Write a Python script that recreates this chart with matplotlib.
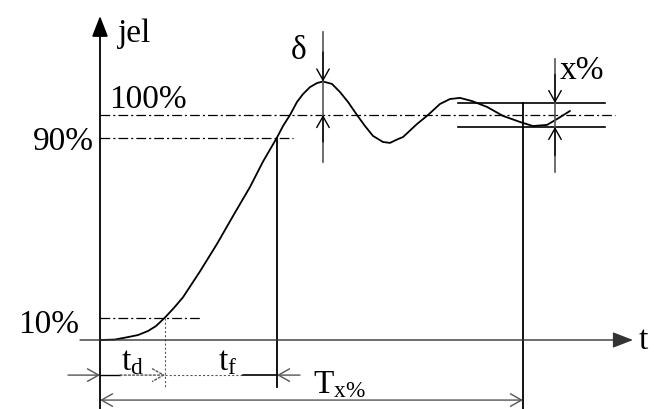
import matplotlib
matplotlib.use("Agg")
import matplotlib.pyplot as plt

plt.rcParams['font.family'] = ['Liberation Serif', 'DejaVu Serif']
plt.rcParams['mathtext.fontset'] = 'custom'
plt.rcParams['mathtext.rm'] = 'Liberation Serif'
plt.rcParams['mathtext.it'] = 'Liberation Serif:italic'
plt.rcParams['lines.scale_dashes'] = False

# step response curve (time units, signal in %)
t_curve = [0, 15, 28, 38, 48, 56, 65, 74, 83, 100, 117, 133, 150, 163, 177, 183, 190,
           197, 203, 210, 217, 223, 232, 240, 248, 257, 265, 273, 283, 290, 298,
           303, 317, 328, 340, 350, 360, 372, 387, 403, 420, 433, 447, 457, 470]
v_curve = [0, 0.2, 1.3, 2.2, 4.0, 6.2, 10, 14.3, 19.0, 30.5, 42.7, 55.1, 68.0, 79.3, 90,
           95.1, 100, 105.8, 109.3, 112.4, 114.2, 114.9, 113.8, 110.2, 105.8, 100,
           95.1, 90.7, 88.0, 87.6, 89.3, 90.2, 96.0, 100, 104.9, 107.1, 107.6,
           106.2, 103.6, 99.6, 96.9, 95.1, 95.6, 98.2, 101.8]

# characteristic levels and times
level_final = 100
level_90 = 90
level_10 = 10
band_hi, band_lo = 105.3, 94.7
t_d = 65
t_90 = 177
t_peak = 223
t_settle = 423
t_band = 455

fig = plt.figure(figsize=(6.55, 4.10), dpi=100)
ax = fig.add_axes([0, 0, 1, 1])
ax.set_xlim(-100, 555)
ax.set_ylim((341 - 410) / 2.25, 341 / 2.25)
ax.axis('off')

K = 'black'
G = '#555555'

# curve
ax.plot(t_curve, v_curve, color=K, lw=1.3, solid_capstyle='round', solid_joinstyle='round')

# axes
ax.annotate('', xy=(0, 144), xytext=(0, -31),
            arrowprops=dict(arrowstyle='-|>,head_length=0.9,head_width=0.35', mutation_scale=14,
                            lw=1.3, color=K, shrinkA=0, shrinkB=0))
ax.annotate('', xy=(533, 0), xytext=(-20, 0),
            arrowprops=dict(arrowstyle='-|>,head_length=0.9,head_width=0.35', mutation_scale=14,
                            lw=1.0, color='#333333', shrinkA=0, shrinkB=0))

dd = (0, (7, 2.2, 1.5, 2.2))
ax.plot([0, 515], [level_final, level_final], color=K, lw=0.9, linestyle=dd)
ax.plot([0, 193], [level_90, level_90], color=K, lw=0.9, linestyle=dd)
ax.plot([0, 100], [level_10, level_10], color=K, lw=0.9, linestyle=dd)

# tolerance band
ax.plot([358, 505], [band_hi, band_hi], color=K, lw=1.2)
ax.plot([358, 505], [band_lo, band_lo], color=K, lw=1.2)

# vertical lines
ax.plot([t_90, t_90], [level_90, -20.9], color=K, lw=1.3)
ax.plot([t_d, t_d], [level_10, -20.9], color=G, lw=0.8, linestyle=(0, (1.5, 1.5)))
ax.plot([t_settle, t_settle], [band_hi, -31], color=K, lw=1.3)

# overshoot marker
ax.plot([t_peak, t_peak], [137, 79], color=G, lw=1.2)
ah = dict(arrowstyle='->,head_length=0.8,head_width=0.45', mutation_scale=10, lw=1.0,
          color=K, shrinkA=0, shrinkB=0)
ax.annotate('', xy=(t_peak, 114.9), xytext=(t_peak, 128), arrowprops=ah)
ax.annotate('', xy=(t_peak, level_final), xytext=(t_peak, 88), arrowprops=ah)

# x% marker
ax.plot([t_band, t_band], [125, 74.7], color=G, lw=1.2)
ax.annotate('', xy=(t_band, band_hi), xytext=(t_band, 118), arrowprops=ah)
ax.annotate('', xy=(t_band, band_lo), xytext=(t_band, 82), arrowprops=ah)

# time dimension arrows
r1 = -15.6
ax.annotate('', xy=(0, r1), xytext=(-32, r1), arrowprops=dict(ah, color=G))
ax.plot([0, 20], [r1, r1], color=K, lw=1.0)
ax.annotate('', xy=(t_d, r1), xytext=(20, r1),
            arrowprops=dict(ah, linestyle=(0, (1.5, 1.5)), color=G))
ax.plot([t_d, 143], [r1, r1], color=G, lw=0.8, linestyle=(0, (1.5, 1.5)))
ax.plot([143, t_90], [r1, r1], color=K, lw=1.2)
ax.annotate('', xy=(t_90, r1), xytext=(t_90 + 23, r1), arrowprops=dict(ah, color=G))
r2 = -26.7
ax.annotate('', xy=(0, r2), xytext=(t_settle, r2),
            arrowprops=dict(ah, arrowstyle='<->,head_length=0.8,head_width=0.45', color=G))

# labels
fs = 24
ax.text(18, 136.5, 'jel', fontsize=fs, ha='left', va='center')
ax.text(9, 107.1, '100%', fontsize=fs, ha='left', va='center')
ax.text(-6, 88.4, '90%', fontsize=fs, ha='right', va='center')
ax.text(-21, 7.1, '10%', fontsize=fs, ha='right', va='center')
ax.text(199, 129, 'δ', fontsize=fs, ha='center', va='center')
ax.text(460, 120, 'x%', fontsize=fs, ha='left', va='center')
ax.text(539, 0, 't', fontsize=fs, ha='left', va='center')
ax.text(33, -9.5, r'$\mathregular{t_d}$', fontsize=fs, ha='center', va='center')
ax.text(128, -9.5, r'$\mathregular{t_f}$', fontsize=fs, ha='center', va='center')
ax.text(213, -19.5, r'$\mathregular{T_{x\%}}$', fontsize=fs, ha='left', va='center')

fig.savefig('out.png', dpi=100)
